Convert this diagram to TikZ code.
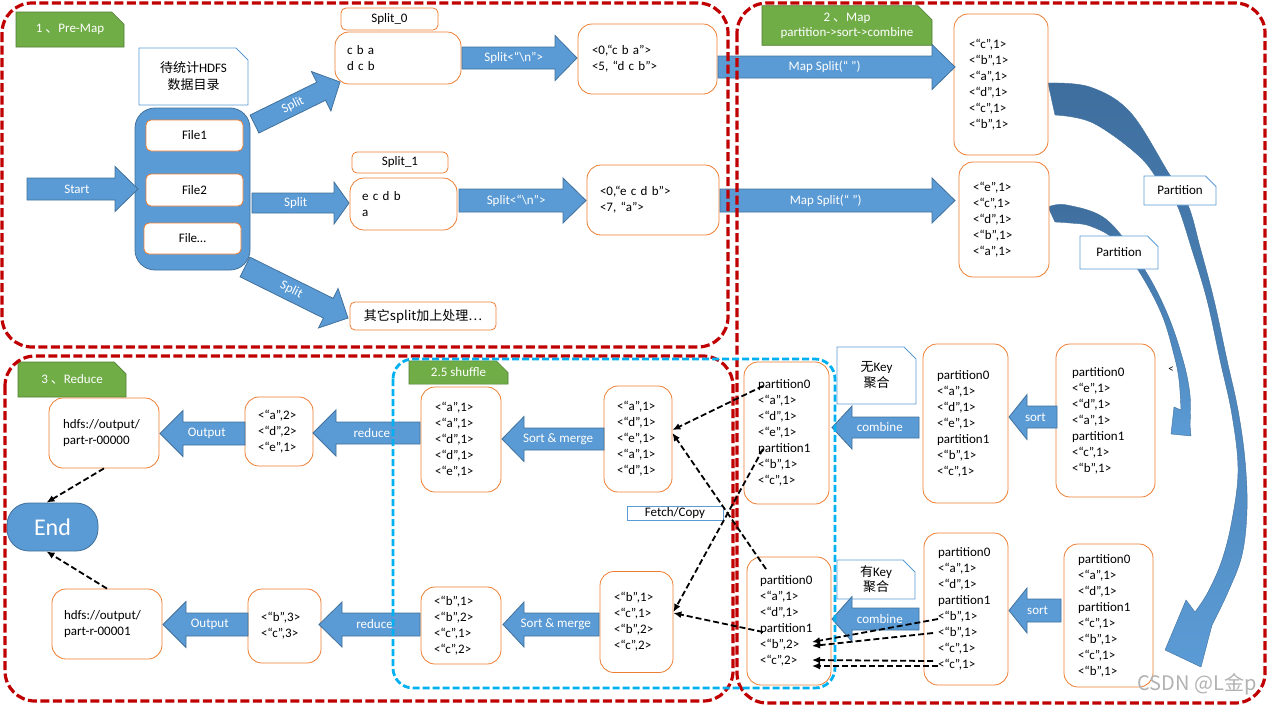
\documentclass[tikz,border=0pt]{standalone}
\usepackage{fontspec}
\setmainfont{Carlito}
\newfontfamily\cjk{Noto Sans CJK SC}
\usetikzlibrary{calc,shapes.misc,arrows.meta}

\definecolor{abl}{HTML}{5B9BD5}
\definecolor{abd}{HTML}{41719C}
\definecolor{cdark}{HTML}{3E6E9E}
\definecolor{orng}{HTML}{ED7D31}
\definecolor{grn}{HTML}{70AD47}
\definecolor{grnd}{HTML}{507E32}
\definecolor{frred}{HTML}{C00000}
\definecolor{frblue}{HTML}{00B0F0}

% block arrow: name, tail, tip, half body, half head, head length, label
\newcommand{\blkarrow}[7]{%
  \coordinate (#1-a) at #2;
  \coordinate (#1-b) at #3;
  \coordinate (#1-h) at ($(#1-b)!#6!(#1-a)$);
  \filldraw[barrow] ($(#1-a)!#4!90:(#1-b)$) -- ($(#1-h)!#4!-90:(#1-a)$) -- ($(#1-h)!#5!-90:(#1-a)$) -- (#1-b)
    -- ($(#1-h)!#5!90:(#1-a)$) -- ($(#1-h)!#4!90:(#1-a)$) -- ($(#1-a)!#4!-90:(#1-b)$) -- cycle;
  \path (#1-a) -- (#1-b) node[barrowlabel, pos=0.45, sloped] (#1) {#7};
}

\begin{document}
\begin{tikzpicture}[x=1pt, y=-1pt,
  every node/.style={font=\fontsize{13}{16}\selectfont, inner sep=0pt},
  obox/.style={draw=orng, fill=white, line width=0.8pt, rounded corners=5pt},
  kv/.style={draw=orng, fill=white, line width=0.8pt, rounded corners=14pt, align=left},
  lbox/.style={chamfered rectangle, chamfered rectangle corners=north east, chamfered rectangle xsep=6pt, chamfered rectangle ysep=6pt, draw=abl, fill=white, line width=0.8pt, align=center},
  glabel/.style={chamfered rectangle, chamfered rectangle corners=north east, chamfered rectangle xsep=7pt, chamfered rectangle ysep=7pt, draw=grnd, fill=grn, text=white, line width=0.6pt, align=center},
  barrow/.style={fill=abl, draw=abd, line width=0.8pt},
  barrowlabel/.style={text=white},
  curved/.style={top color=cdark, bottom color=abl, draw=abd, line width=0.4pt},
  frame/.style={draw=frred, line width=3.2pt, dash pattern=on 9pt off 3.5pt, rounded corners=30pt},
  shuf/.style={draw=frblue, line width=2.8pt, dash pattern=on 7pt off 3pt, rounded corners=20pt},
  fetch/.style={draw=black, line width=1.8pt, dash pattern=on 6pt off 3pt, -{Latex[length=8pt,width=7pt]}}]
\useasboundingbox (0,0) rectangle (1268,705);

% partition arrows
\shadedraw[curved] plot[smooth, tension=0.6] coordinates {(1048,83) (1090,87) (1130,112) (1168,172) (1188,205) (1200,247) (1214,300) (1227,360) (1238,410) (1245,460) (1247,510) (1242,555) (1228,592) (1212,625)}
  -- (1201,667) -- (1165,650) -- (1186,600)
  -- plot[smooth, tension=0.6] coordinates {(1195,612) (1208,592) (1222,560) (1232,520) (1238,470) (1232,415) (1220,360) (1207,300) (1192,250) (1177,205) (1163,188) (1140,157) (1093,123) (1055,115)} -- cycle;
\shadedraw[curved] plot[smooth, tension=0.6] coordinates {(1048,207) (1067,205) (1107,220) (1143,267) (1167,313) (1183,360) (1190,395) (1190,425)}
  -- (1191,436) -- (1171,434) -- (1174,407)
  -- plot[smooth, tension=0.6] coordinates {(1181,410) (1179,380) (1174,355) (1162,315) (1140,273) (1115,240) (1090,226) (1070,223) (1055,222)} -- cycle;

% 1 pre-map
\node (g1) at (70,29.5) [glabel, minimum width=108pt, minimum height=35pt] {1 {\cjk 、}Pre-Map};
\node (hdfs) at (193.5,76.5) [lbox, minimum width=109pt, minimum height=57pt, font=\fontsize{13}{17}\selectfont] {{\cjk 待统计}HDFS\\{\cjk 数据目录}};
\node (files) at (192.5,189) [draw=abd, fill=abl, line width=0.8pt, rounded corners=20pt, minimum width=115pt, minimum height=162pt] {};
\node (f1) at (194.5,135.5) [obox, minimum width=97pt, minimum height=31pt] {File1};
\node (f2) at (194.5,190) [obox, minimum width=97pt, minimum height=32pt] {File2};
\node (f3) at (192.5,238.5) [obox, minimum width=97pt, minimum height=31pt] {File…};
\node (s0lab) at (389.5,19) [obox, minimum width=97pt, minimum height=22pt] {Split\_0};
\node (s0) at (398,58) [kv, text width=102pt, inner xsep=12pt, minimum height=52pt] {c b a\\d c b};
\node (s1lab) at (400,162.5) [obox, minimum width=96pt, minimum height=21pt] {Split\_1};
\node (s1) at (403.5,204) [kv, text width=83pt, inner xsep=12pt, minimum height=52pt] {e c d b\\a};
\node (other) at (423,316) [obox, minimum width=146pt, minimum height=28pt] {{\cjk 其它split加上处理…}};
\node (kv0) at (647.5,59) [kv, text width=111pt, inner xsep=14pt, minimum height=70pt] {<0,“c b a”>\\<5, “d c b”>};
\node (kv1) at (653,200) [kv, text width=106pt, inner xsep=13pt, minimum height=70pt] {<0,“e c d b”>\\<7, “a”>};

% 2 map
\node (g2) at (847,25.5) [glabel, minimum width=170pt, minimum height=35pt, font=\fontsize{13}{15}\selectfont] {2 {\cjk 、}Map\\partition->sort->combine};
\node (m1) at (1001,84.5) [kv, text width=64pt, inner xsep=15pt, minimum height=141pt] {<“c”,1>\\<“b”,1>\\<“a”,1>\\<“d”,1>\\<“c”,1>\\<“b”,1>};
\node (m2) at (1004,219.5) [kv, text width=62pt, inner xsep=14pt, minimum height=115pt] {<“e”,1>\\<“c”,1>\\<“d”,1>\\<“b”,1>\\<“a”,1>};
\node (pa0) at (1180,190.5) [lbox, minimum width=72pt, minimum height=29pt] {Partition};
\node (pa1) at (1119,252.5) [lbox, minimum width=78pt, minimum height=33pt] {Partition};
\node (lt) at (1171,370) [font=\fontsize{11}{11}\selectfont] {<};
\node (pr0) at (1105.5,420.5) [kv, text width=67pt, inner xsep=16pt, minimum height=153pt] {partition0\\<“e”,1>\\<“d”,1>\\<“a”,1>\\partition1\\<“c”,1>\\<“b”,1>};
\node (pr1) at (1108.5,615.5) [kv, text width=61pt, inner xsep=14pt, minimum height=143pt] {partition0\\<“a”,1>\\<“d”,1>\\partition1\\<“c”,1>\\<“b”,1>\\<“c”,1>\\<“b”,1>};
\node (so0) at (965.5,423.5) [kv, text width=57pt, inner xsep=14pt, minimum height=159pt] {partition0\\<“a”,1>\\<“d”,1>\\<“e”,1>\\partition1\\<“b”,1>\\<“c”,1>};
\node (so1) at (966,609) [kv, text width=56pt, inner xsep=14pt, minimum height=152pt] {partition0\\<“a”,1>\\<“d”,1>\\partition1\\<“b”,1>\\<“b”,1>\\<“c”,1>\\<“c”,1>};
\node (nok) at (876.5,375.5) [lbox, minimum width=79pt, minimum height=57pt] {{\cjk 无}Key\\{\cjk 聚合}};
\node (hk) at (876,579.5) [lbox, minimum width=78pt, minimum height=35pt, font=\fontsize{13}{15}\selectfont] {{\cjk 有}Key\\{\cjk 聚合}};
\node (cb0) at (786.5,433) [kv, text width=57pt, inner xsep=14pt, minimum height=142pt] {partition0\\<“a”,1>\\<“d”,1>\\<“e”,1>\\partition1\\<“b”,1>\\<“c”,1>};
\node (cb1) at (789,621) [kv, text width=58pt, inner xsep=13pt, minimum height=128pt] {partition0\\<“a”,1>\\<“d”,1>\\partition1\\<“b”,2>\\<“c”,2>};

% 2.5 shuffle
\node (g25) at (458.5,372.5) [glabel, minimum width=99pt, minimum height=21pt] {2.5 shuffle};
\node (fetchlab) at (675,513) [draw=abl, fill=white, line width=0.8pt, minimum width=96pt, minimum height=14pt] {Fetch/Copy};
\node (fm0) at (638,439) [kv, text width=42pt, inner xsep=13pt, minimum height=106pt] {<“a”,1>\\<“d”,1>\\<“e”,1>\\<“a”,1>\\<“d”,1>};
\node (fb0) at (636.5,622) [kv, text width=45pt, inner xsep=14pt, minimum height=101pt] {<“b”,1>\\<“c”,1>\\<“b”,2>\\<“c”,2>};
\node (mg0) at (461,439.5) [kv, text width=52pt, inner xsep=14pt, minimum height=105pt] {<“a”,1>\\<“a”,1>\\<“d”,1>\\<“d”,1>\\<“e”,1>};
\node (mg1) at (461,625.5) [kv, text width=54pt, inner xsep=13pt, minimum height=77pt] {<“b”,1>\\<“b”,2>\\<“c”,1>\\<“c”,2>};

% 3 reduce
\node (g3) at (72,379.5) [glabel, minimum width=108pt, minimum height=35pt] {3 {\cjk 、}Reduce};
\node (rd0) at (279,431.5) [kv, text width=42pt, inner xsep=13pt, minimum height=69pt] {<“a”,2>\\<“d”,2>\\<“e”,1>};
\node (rd1) at (284.5,626) [kv, text width=47pt, inner xsep=13pt, minimum height=74pt] {<“b”,3>\\<“c”,3>};
\node (out0) at (104,433) [kv, text width=82pt, inner xsep=14pt, minimum height=70pt] {hdfs://output/\\part-r-00000};
\node (out1) at (107,624) [kv, text width=86pt, inner xsep=12pt, minimum height=70pt] {hdfs://output/\\part-r-00001};
\node (end) at (52.5,527) [draw=abd, fill=abl, line width=0.8pt, rounded corners=22pt, minimum width=91pt, minimum height=48pt, text=white, font=\fontsize{24}{24}\selectfont] {End};

% block arrows
\blkarrow{start}{(27,189)}{(138,189)}{11pt}{22.5pt}{23pt}{Start}
\blkarrow{sp0}{(254.5,124)}{(340,82)}{10pt}{22pt}{21pt}{Split}
\blkarrow{sp1}{(252,203)}{(349,203)}{10pt}{21pt}{15pt}{Split}
\blkarrow{sp2}{(245,267)}{(348,318)}{11pt}{22pt}{22pt}{Split}
\blkarrow{nl0}{(462,58)}{(577,58)}{11pt}{22.5pt}{22pt}{Split<“\textbackslash n”>}
\blkarrow{nl1}{(459,200.5)}{(586,200.5)}{11.5pt}{22.5pt}{23pt}{Split<“\textbackslash n”>}
\blkarrow{ms0}{(718,67)}{(955,67)}{11pt}{22.5pt}{23pt}{Map Split(“ ”)}
\blkarrow{ms1}{(720,200.5)}{(955,200.5)}{11.5pt}{22.5pt}{23pt}{Map Split(“ ”)}
\blkarrow{st0}{(1057,417)}{(1009,417)}{11pt}{22.5pt}{18pt}{sort}
\blkarrow{cm0}{(919,427.5)}{(832,427.5)}{10.5pt}{21.5pt}{20pt}{combine}
\blkarrow{st1}{(1061,610.5)}{(1009,610.5)}{11.5pt}{22.5pt}{18pt}{sort}
\blkarrow{cm1}{(919,619)}{(832,619)}{11pt}{22.5pt}{20pt}{combine}
\blkarrow{sm0}{(604,439)}{(502,439)}{11pt}{22.5pt}{22pt}{Sort \& merge}
\blkarrow{sm1}{(599,624.5)}{(503,624.5)}{11.5pt}{22.5pt}{21pt}{Sort \& merge}
\blkarrow{rda}{(420,433)}{(313,433)}{11pt}{23pt}{23pt}{reduce}
\blkarrow{rdb}{(420,624.5)}{(319,624.5)}{11.5pt}{22.5pt}{23pt}{reduce}
\blkarrow{opa}{(245,433.5)}{(160,433.5)}{11.5pt}{23pt}{23pt}{Output}
\blkarrow{opb}{(248,624.5)}{(163,624.5)}{11.5pt}{23pt}{23pt}{Output}

% stage frames
\draw[frame] (2,3) rectangle (728,347);
\draw[frame] (737,3) rectangle (1265,703);
\draw[frame] (5,356) rectangle (733,701);
\draw[shuf] (393,359) rectangle (835,688);

% fetch / copy
\coordinate (cb0p0) at (763,386);
\coordinate (cb0p1) at (763,449);
\coordinate (cb1p0) at (766,569);
\coordinate (cb1p1) at (763,632);
\draw[fetch] (cb0p0) -- ([yshift=9pt]fm0.east);
\draw[fetch] (cb1p0) -- ([yshift=6pt]fm0.east);
\draw[fetch] (cb0p1) -- ([yshift=10pt]fb0.east);
\draw[fetch] (cb1p1) -- ([yshift=9pt]fb0.east);

% combine with key
\coordinate (so1b1) at (938,619);
\coordinate (so1b2) at (933,633);
\coordinate (so1c1) at (933,661);
\coordinate (so1c2) at (938,666);
\coordinate (cb1b1) at (812,642);
\coordinate (cb1b2) at (812,646);
\coordinate (cb1c1) at (812,660);
\coordinate (cb1c2) at (812,666);
\draw[fetch] (so1b1) -- (cb1b1);
\draw[fetch] (so1b2) -- (cb1b2);
\draw[fetch] (so1c1) -- (cb1c1);
\draw[fetch] (so1c2) -- (cb1c2);

% to end
\draw[fetch] (out0.south) -- ([xshift=-6pt]end.north);
\draw[fetch] (out1.north) -- ([xshift=-6pt]end.south);

\node (wm) at (1197,684) [text=gray!60, font=\cjk\fontsize{20}{20}\selectfont] {CSDN @L金p};
\end{tikzpicture}
\end{document}
